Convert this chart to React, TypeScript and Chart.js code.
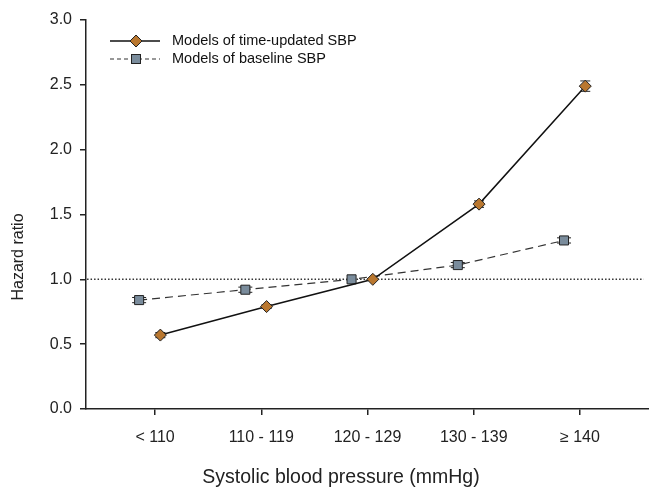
import React, { useEffect, useRef } from "react";
import { Chart, registerables } from "chart.js";

Chart.register(...registerables);

const categories = ["< 110", "110 - 119", "120 - 129", "130 - 139", "≥ 140"];
const timeUpdatedHR = [0.57, 0.79, 1.0, 1.58, 2.49];
const timeUpdatedErr = [0.02, 0.015, 0.0, 0.025, 0.04];
const baselineHR = [0.84, 0.92, 1.0, 1.11, 1.3];
const baselineErr = [0.02, 0.02, 0.0, 0.02, 0.02];
const yTicks = [0, 0.5, 1, 1.5, 2, 2.5, 3];
const referenceHR = 1.0;
const seriesLabels = ["Models of time-updated SBP", "Models of baseline SBP"];
const xTitle = "Systolic blood pressure (mmHg)";
const yTitle = "Hazard ratio";

const TIME_OFFSET = 0.05;
const BASE_OFFSET = -0.15;
const FONT = "'Liberation Sans', Arial, sans-serif";
const DIAMOND_FILL = "#B9772F";
const SQUARE_FILL = "#7A8C9C";

const errorBarPlugin = {
  id: "errorBars",
  beforeDatasetsDraw(chart: any) {
    const ctx = chart.ctx;
    const y = chart.scales.y;
    const errs = [timeUpdatedErr, baselineErr];
    const capHalf = [5, 7];
    ctx.save();
    ctx.strokeStyle = "#222";
    ctx.lineWidth = 1;
    [0, 1].forEach((di) => {
      const meta = chart.getDatasetMeta(di);
      const vals = di === 0 ? timeUpdatedHR : baselineHR;
      meta.data.forEach((pt: any, i: number) => {
        const e = errs[di][i];
        if (!e) return;
        const yt = y.getPixelForValue(vals[i] + e);
        const yb = y.getPixelForValue(vals[i] - e);
        ctx.beginPath();
        ctx.moveTo(pt.x, yt);
        ctx.lineTo(pt.x, yb);
        ctx.moveTo(pt.x - capHalf[di], yt);
        ctx.lineTo(pt.x + capHalf[di], yt);
        ctx.moveTo(pt.x - capHalf[di], yb);
        ctx.lineTo(pt.x + capHalf[di], yb);
        ctx.stroke();
      });
    });
    ctx.restore();
  },
};

const legendPlugin = {
  id: "customLegend",
  afterDraw(chart: any) {
    const ctx = chart.ctx;
    ctx.save();
    const x0 = 110;
    const x1 = 160;
    const xm = 136;
    const rows = [41, 59];
    ctx.textBaseline = "middle";
    // row 1
    ctx.strokeStyle = "#111";
    ctx.lineWidth = 1.5;
    ctx.setLineDash([]);
    ctx.beginPath();
    ctx.moveTo(x0, rows[0]);
    ctx.lineTo(x1, rows[0]);
    ctx.stroke();
    ctx.beginPath();
    ctx.moveTo(xm, rows[0] - 6);
    ctx.lineTo(xm + 6, rows[0]);
    ctx.lineTo(xm, rows[0] + 6);
    ctx.lineTo(xm - 6, rows[0]);
    ctx.closePath();
    ctx.fillStyle = DIAMOND_FILL;
    ctx.fill();
    ctx.lineWidth = 1;
    ctx.strokeStyle = "#222";
    ctx.stroke();
    // row 2
    ctx.strokeStyle = "#333";
    ctx.lineWidth = 1.2;
    ctx.setLineDash([4, 3]);
    ctx.beginPath();
    ctx.moveTo(x0, rows[1]);
    ctx.lineTo(x1, rows[1]);
    ctx.stroke();
    ctx.setLineDash([]);
    ctx.fillStyle = SQUARE_FILL;
    ctx.fillRect(xm - 4.5, rows[1] - 4.5, 9, 9);
    ctx.lineWidth = 1;
    ctx.strokeStyle = "#222";
    ctx.strokeRect(xm - 4.5, rows[1] - 4.5, 9, 9);
    ctx.fillStyle = "#111";
    ctx.font = `14.5px ${FONT}`;
    ctx.fillText(seriesLabels[0], 172, rows[0]);
    ctx.fillText(seriesLabels[1], 172, rows[1]);

    // axis titles
    ctx.fillStyle = "#222";
    ctx.textAlign = "center";
    ctx.font = `19.5px ${FONT}`;
    ctx.fillText(xTitle, 341, 478);
    ctx.translate(19, 257);
    ctx.rotate(-Math.PI / 2);
    ctx.font = `16px ${FONT}`;
    ctx.fillText(yTitle, 0, 0);
    ctx.restore();
  },
};

export default function App() {
  const canvasRef = useRef<HTMLCanvasElement | null>(null);

  useEffect(() => {
    if (!canvasRef.current) return;
    Chart.defaults.font.family = FONT;
    const chart = new Chart(canvasRef.current, {
      type: "line",
      data: {
        datasets: [
          {
            label: seriesLabels[0],
            data: timeUpdatedHR.map((v, i) => ({ x: i + 1 + TIME_OFFSET, y: v })),
            borderColor: "#111",
            borderWidth: 1.5,
            pointStyle: "rectRot",
            pointRadius: 6,
            pointBackgroundColor: DIAMOND_FILL,
            pointBorderColor: "#222",
            pointBorderWidth: 1,
            tension: 0,
            order: 1,
          },
          {
            label: seriesLabels[1],
            data: baselineHR.map((v, i) => ({ x: i + 1 + BASE_OFFSET, y: v })),
            borderColor: "#333",
            borderWidth: 1.2,
            borderDash: [8, 5],
            pointStyle: "rect",
            pointRadius: 6.4,
            pointBackgroundColor: SQUARE_FILL,
            pointBorderColor: "#222",
            pointBorderWidth: 1,
            tension: 0,
            order: 2,
          },
          {
            label: "reference",
            data: [
              { x: 0.36, y: referenceHR },
              { x: 5.6, y: referenceHR },
            ],
            borderColor: "#333",
            borderWidth: 1.5,
            borderDash: [1.5, 2],
            pointRadius: 0,
            order: 3,
          },
        ],
      },
      options: {
        animation: false,
        responsive: false,
        layout: { autoPadding: false, padding: { top: 20, right: 0, left: 0, bottom: 0 } },
        plugins: { legend: { display: false }, tooltip: { enabled: false } },
        scales: {
          x: {
            type: "linear",
            min: 0.35,
            max: 5.65,
            afterBuildTicks: (s: any) => {
              s.ticks = categories.map((_, i) => ({ value: i + 1 }));
            },
            afterFit: (s: any) => {
              s.height = 80;
              s.paddingLeft = 0;
              s.paddingRight = 0;
            },
            ticks: {
              autoSkip: false,
              maxRotation: 0,
              padding: 13,
              color: "#222",
              font: { size: 16 },
              callback: (v: any) => categories[Math.round(v) - 1] ?? "",
            },
            grid: {
              display: true,
              drawOnChartArea: false,
              drawTicks: true,
              tickLength: 6,
              color: "#222",
              lineWidth: 1.5,
            },
            border: { display: true, color: "#222", width: 1.5 },
            title: { display: false },
          },
          y: {
            min: 0,
            max: 3,
            afterBuildTicks: (s: any) => {
              s.ticks = yTicks.map((v) => ({ value: v }));
            },
            afterFit: (s: any) => {
              s.width = 86;
              s.paddingTop = 0;
              s.paddingBottom = 0;
            },
            ticks: {
              padding: 8,
              color: "#222",
              font: { size: 16 },
              callback: (v: any) => Number(v).toFixed(1),
            },
            grid: {
              display: true,
              drawOnChartArea: false,
              drawTicks: true,
              tickLength: 6,
              color: "#222",
              lineWidth: 1.5,
            },
            border: { display: true, color: "#222", width: 1.5 },
            title: { display: false },
          },
        },
      },
      plugins: [errorBarPlugin, legendPlugin],
    } as any);
    return () => chart.destroy();
  }, []);

  return (
    <div style={{ position: "absolute", left: 0, top: 0, width: 649, height: 489 }}>
      <canvas ref={canvasRef} width={649} height={489} style={{ display: "block" }} />
    </div>
  );
}
